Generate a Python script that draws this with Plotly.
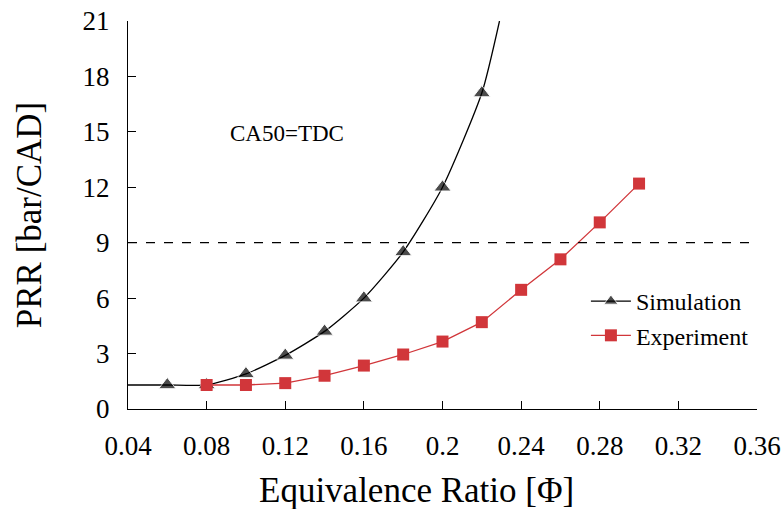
import plotly.graph_objects as go

# Simulation (smooth curve through markers; endpoints are curve-only points)
sim_x = [0.04, 0.06, 0.08, 0.10, 0.12, 0.14, 0.16, 0.18, 0.20, 0.22, 0.229]
sim_y = [1.3, 1.3, 1.3, 1.9, 2.9, 4.2, 6.0, 8.5, 12.0, 17.1, 21.0]
sim_marker_size = [0, 15, 15, 15, 15, 15, 15, 15, 15, 15, 0]

# Experiment
exp_x = [0.08, 0.10, 0.12, 0.14, 0.16, 0.18, 0.20, 0.22, 0.24, 0.26, 0.28, 0.30]
exp_y = [1.3, 1.3, 1.4, 1.8, 2.35, 2.95, 3.65, 4.7, 6.45, 8.1, 10.1, 12.2]

limit_y = 9
x_ticks = [0.04, 0.08, 0.12, 0.16, 0.2, 0.24, 0.28, 0.32, 0.36]
x_ticktext = ["0.04", "0.08", "0.12", "0.16", "0.2", "0.24", "0.28", "0.32", "0.36"]
y_ticks = [0, 3, 6, 9, 12, 15, 18, 21]

FONT = "Liberation Serif"
RED = "#d1363a"

fig = go.Figure()
fig.add_trace(go.Scatter(
    x=sim_x, y=sim_y, mode="lines+markers", name="Simulation",
    line=dict(color="black", width=1.3, shape="spline", smoothing=0.6),
    marker=dict(symbol="triangle-up", size=sim_marker_size, color="black"),
))
fig.add_trace(go.Scatter(
    x=exp_x, y=exp_y, mode="lines+markers", name="Experiment",
    line=dict(color=RED, width=1.3),
    marker=dict(symbol="square", size=12, color=RED),
))
fig.add_hline(y=limit_y, line=dict(color="black", width=1.3, dash="dash"))
fig.add_annotation(x=0.121, y=14.9, text="CA50=TDC", showarrow=False,
                   font=dict(size=23))
# x-axis title placed as in the reference (slightly left of plot centre)
fig.add_annotation(x=0.458, y=-0.209, xref="paper", yref="paper",
                   xanchor="center", yanchor="middle", showarrow=False,
                   text="Equivalence Ratio [Φ]", font=dict(size=35))

fig.update_layout(
    width=783, height=509,
    margin=dict(l=128, r=26, t=21, b=100),
    paper_bgcolor="white", plot_bgcolor="white",
    font=dict(family=FONT, color="black"),
    showlegend=True,
    legend=dict(x=0.728, y=0.335, xanchor="left", yanchor="top",
                font=dict(size=24),
                bgcolor="rgba(0,0,0,0)", tracegroupgap=0, itemwidth=40),
)
fig.update_xaxes(
    range=[0.04, 0.36], tickvals=x_ticks, ticktext=x_ticktext,
    showgrid=False, zeroline=False, showline=True, linecolor="black", linewidth=1.3,
    ticks="inside", ticklen=8, tickcolor="black", tickwidth=1.3,
    ticklabelstandoff=12, automargin=False,
    tickfont=dict(size=27),
)
fig.update_yaxes(
    range=[0, 21], tickvals=y_ticks,
    showgrid=False, zeroline=False, showline=True, linecolor="black", linewidth=1.3,
    ticks="inside", ticklen=8, tickcolor="black", tickwidth=1.3,
    ticklabelstandoff=12, automargin=False,
    tickfont=dict(size=27),
    title=dict(text="PRR [bar/CAD]", font=dict(size=35), standoff=30),
)

fig.write_html("out.html")
